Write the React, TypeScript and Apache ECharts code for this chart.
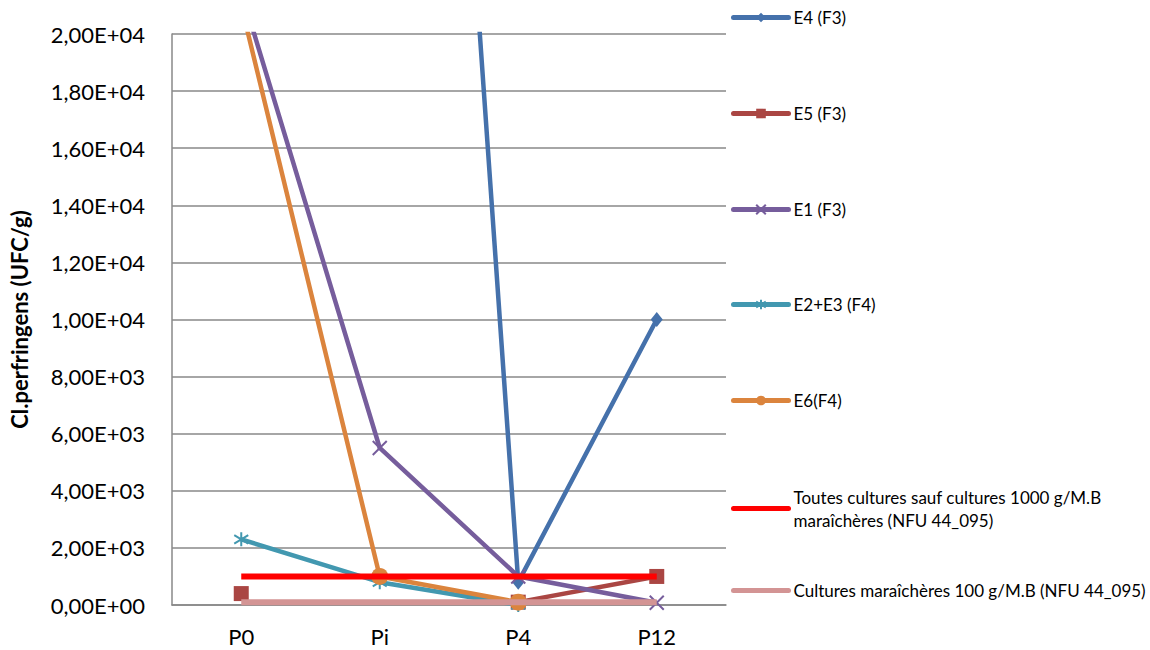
import React, { useEffect, useRef } from "react";
import * as echarts from "echarts";

const categories = ["P0", "Pi", "P4", "P12"];
const e4F3 = [100000, 70000, 800, 10000];
const e5F3 = [400, null, 100, 1000];
const e1F3 = [21500, 5500, 1000, 80];
const e2e3F4 = [2300, 800, 0, null];
const e6F4 = [21000, 1000, 100, null];
const seuilToutes = [1000, 1000, 1000, 1000];
const seuilMaraich = [100, 100, 100, 100];

const names = [
  "E4 (F3)",
  "E5 (F3)",
  "E1 (F3)",
  "E2+E3 (F4)",
  "E6(F4)",
  "Toutes cultures sauf cultures 1000 g/M.B\nmaraîchères (NFU 44_095)",
  "Cultures maraîchères 100 g/M.B (NFU 44_095)",
];
const colors = ["#4571AB", "#AA4643", "#765D9C", "#4298B0", "#DB843D", "#FF0000", "#D39494"];
const legendY = [17, 113, 209, 304, 400, 495, 590];

const FONT = "Lato, 'Open Sans', sans-serif";

function fmtExp(v: number): string {
  const s = v.toExponential(2);
  const [m, e] = s.split("e");
  const sign = e[0] === "-" ? "-" : "+";
  const digits = e.replace(/[+-]/, "").padStart(2, "0");
  return m.replace(".", ",") + "E" + sign + digits;
}

const xSym = "path://M0,0L10,10M10,0L0,10";
const starSym = "path://M5,0L5,10M0,2L10,8M10,2L0,8";

export default function App() {
  const ref = useRef<HTMLDivElement>(null);
  useEffect(() => {
    document.body.style.margin = "0";
    const chart = echarts.init(ref.current!, null, { renderer: "svg" });
    const datas = [e4F3, e5F3, e1F3, e2e3F4, e6F4, seuilToutes, seuilMaraich];
    const symbols = ["diamond", "rect", xSym, starSym, "circle", "none", "none"];
    const sizes = [[12, 15], 15, 14, 14, 17, 0, 0];
    const series = datas.map((d, i) => {
      const isPath = i === 2 || i === 3;
      return {
        name: names[i],
        type: "line",
        data: d,
        symbol: symbols[i],
        symbolSize: sizes[i],
        showAllSymbol: true,
        clip: true,
        lineStyle: { color: colors[i], width: i >= 5 ? 6 : 4.5 },
        itemStyle: isPath
          ? { color: "rgba(0,0,0,0)", borderColor: colors[i], borderWidth: 2 }
          : { color: colors[i], borderWidth: 0 },
        z: 2 + i,
        emphasis: { disabled: true },
      };
    });
    const legends = names.map((n, i) => {
      const multi = i === 5;
      const noSym = i >= 5;
      return {
        data: [n],
        left: 731,
        top: multi ? legendY[i] - 21 : legendY[i] - 11,
        orient: "vertical",
        padding: 0,
        itemGap: 0,
        itemWidth: 55,
        itemHeight: 12,
        selectedMode: false,
        lineStyle: { width: 5, cap: "round" },
        itemStyle: noSym ? { opacity: 0 } : {},
        textStyle: {
          fontFamily: FONT,
          fontSize: 17,
          color: "#000",
          lineHeight: 23,
          padding: multi ? [23, 0, 0, 0] : 0,
        },
      };
    });
    chart.setOption({
      animation: false,
      textStyle: { fontFamily: FONT },
      grid: { left: 172, top: 34, right: 424, bottom: 45, containLabel: false },
      legend: legends,
      xAxis: {
        type: "category",
        data: categories,
        boundaryGap: true,
        axisLine: { lineStyle: { color: "#888", width: 1.5 } },
        axisTick: { show: false },
        axisLabel: { fontFamily: FONT, fontSize: 22, color: "#000", margin: 20 },
      },
      yAxis: {
        type: "value",
        min: 0,
        max: 20000,
        interval: 2000,
        name: "Cl.perfringens (UFC/g)",
        nameLocation: "middle",
        nameGap: 142,
        nameTextStyle: { fontFamily: FONT, fontSize: 22, fontWeight: "bold", color: "#000" },
        axisLine: { show: true, lineStyle: { color: "#888", width: 1.5 } },
        axisTick: { show: false },
        splitLine: { lineStyle: { color: "#888", width: 1.5 } },
        axisLabel: {
          fontFamily: FONT,
          fontSize: 22,
          color: "#000",
          margin: 27,
          formatter: (v: number) => fmtExp(v),
        },
      },
      series,
    });
    return () => chart.dispose();
  }, []);
  return <div ref={ref} style={{ width: 1150, height: 650 }} />;
}
